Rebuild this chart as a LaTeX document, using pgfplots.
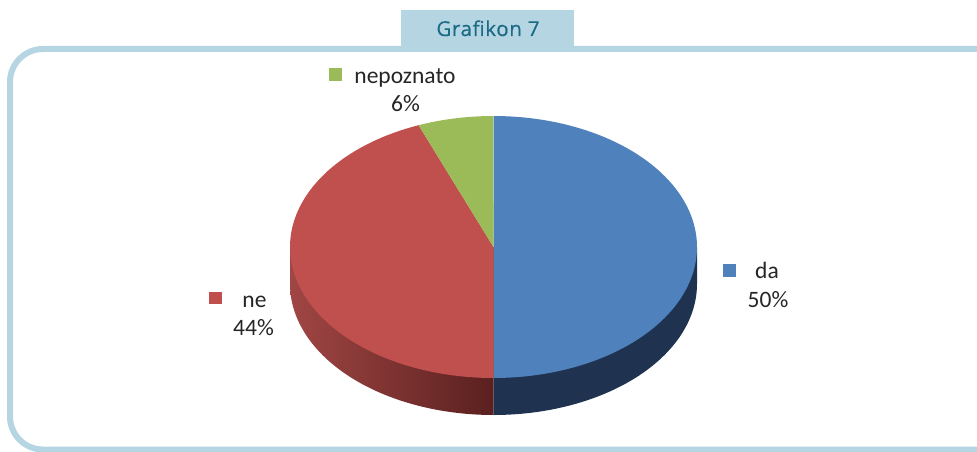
\documentclass[border=0pt]{standalone}
\usepackage{pgfplots}
\pgfplotsset{compat=1.18}
\usepackage{pgfplotstable}
\usepackage{fontspec}
\setmainfont{Carlito}
\newfontfamily\titlefont{Open Sans}[LetterSpace=3,FakeBold=0.4]
\definecolor{frameblue}{HTML}{B5D5E3}
\definecolor{titletxt}{HTML}{1B6B86}
\definecolor{pieblue}{HTML}{4F81BD}
\definecolor{piered}{HTML}{C0504D}
\definecolor{piegreen}{HTML}{9BBB59}
\definecolor{sideblue}{HTML}{1F3350}
\definecolor{sideredL}{HTML}{A04644}
\definecolor{sideredR}{HTML}{5A201F}

\pgfplotstableread{
label value
da 50
ne 44
nepoznato 6
}\piedata

\begin{document}
\begin{tikzpicture}
\pgfplotstablegetelem{0}{value}\of\piedata \let\va\pgfplotsretval
\pgfplotstablegetelem{1}{value}\of\piedata \let\vb\pgfplotsretval
\pgfplotstablegetelem{2}{value}\of\piedata \let\vc\pgfplotsretval
\pgfmathsetmacro\tot{\va+\vb+\vc}
\pgfmathsetmacro\aA{90}
\pgfmathsetmacro\aB{90-360*(\va/\tot)}
\pgfmathsetmacro\aC{\aB-360*(\vb/\tot)}
\pgfmathsetmacro\aD{\aC-360*(\vc/\tot)}
\def\cx{493.5}\def\cy{204}\def\rx{203.5}\def\ry{131}\def\dd{37}
\pgfmathsetmacro\xl{\cx-\rx}
\pgfmathsetmacro\xr{\cx+\rx}
\begin{axis}[x=1pt,y=1pt,xmin=0,xmax=977,ymin=0,ymax=451,hide axis,clip=false,
  anchor=south west,at={(0,0)}]
% frame and title tab
\draw[frameblue,line width=6pt,rounded corners=33pt] (axis cs:10,1.5) rectangle (axis cs:1010,402);
\fill[frameblue] (axis cs:401,402) rectangle (axis cs:574,441);
\node[anchor=base,text=titletxt,font=\titlefont\fontsize{20.5}{24}\selectfont] at (axis cs:488,415) {Grafikon 7};
% sides
\addplot[draw=none,left color=sideredL,right color=sideredR,domain=-180:-90,samples=80]
  ({\cx+\rx*cos(x)},{\cy-\dd+\ry*sin(x)}) -- (axis cs:\cx,\cy) -- (axis cs:\xl,\cy) -- cycle;
\addplot[draw=none,fill=sideblue,domain=-90:0,samples=80]
  ({\cx+\rx*cos(x)},{\cy-\dd+\ry*sin(x)}) -- (axis cs:\xr,\cy) -- (axis cs:\cx,\cy) -- cycle;
% top face
\addplot[draw=none,fill=pieblue,domain=\aB:\aA,samples=120]
  ({\cx+\rx*cos(x)},{\cy+\ry*sin(x)}) -- (axis cs:\cx,\cy) -- cycle;
\addplot[draw=none,fill=piered,domain=\aC:\aB,samples=120]
  ({\cx+\rx*cos(x)},{\cy+\ry*sin(x)}) -- (axis cs:\cx,\cy) -- cycle;
\addplot[draw=none,fill=piegreen,domain=\aD:\aC,samples=30]
  ({\cx+\rx*cos(x)},{\cy+\ry*sin(x)}) -- (axis cs:\cx,\cy) -- cycle;
% labels
\fill[pieblue] (axis cs:723,174) rectangle (axis cs:736,187);
\node[anchor=base,font=\fontsize{23.5}{28}\selectfont,text=black!85] at (axis cs:767,173) {da};
\node[anchor=base,font=\fontsize{23.5}{28}\selectfont,text=black!85] at (axis cs:768,144) {50\%};
\fill[piered] (axis cs:209,147) rectangle (axis cs:222,159);
\node[anchor=base,font=\fontsize{23.5}{28}\selectfont,text=black!85] at (axis cs:254.5,144) {ne};
\node[anchor=base,font=\fontsize{23.5}{28}\selectfont,text=black!85] at (axis cs:253.5,116) {44\%};
\fill[piegreen] (axis cs:329,370) rectangle (axis cs:342,383);
\node[anchor=base,font=\fontsize{23.5}{28}\selectfont,text=black!85] at (axis cs:405,368) {nepoznato};
\node[anchor=base,font=\fontsize{23.5}{28}\selectfont,text=black!85] at (axis cs:405.5,340) {6\%};
\end{axis}
\pgfresetboundingbox
\useasboundingbox (0,0) rectangle (977pt,451pt);
\end{tikzpicture}
\end{document}
